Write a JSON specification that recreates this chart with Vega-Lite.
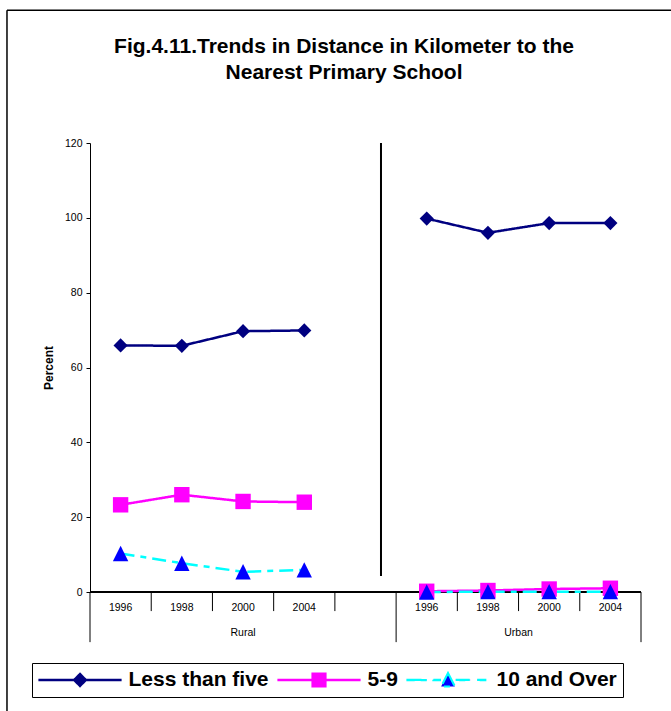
{
  "$schema": "https://vega.github.io/schema/vega-lite/v6.json",
  "width": 551,
  "height": 449,
  "autosize": {"type": "none"},
  "padding": {"left": 90, "top": 143, "right": 30, "bottom": 119},
  "background": "white",
  "config": {
    "view": {"stroke": null},
    "font": "Liberation Sans",
    "axisY": {
      "grid": false,
      "tickCount": 6,
      "domainColor": "black",
      "tickColor": "black",
      "tickSize": 4,
      "labelPadding": 4,
      "labelFont": "Liberation Sans",
      "labelFontSize": 10.5,
      "labelColor": "black",
      "titleFont": "Liberation Sans",
      "titleFontSize": 12,
      "titleFontWeight": "bold",
      "titleColor": "black",
      "titlePadding": 9
    }
  },
  "title": {
    "text": ["Fig.4.11.Trends in Distance in Kilometer to the", "Nearest Primary School"],
    "font": "Liberation Sans",
    "fontSize": 21,
    "fontWeight": "bold",
    "color": "black",
    "lineHeight": 26.5,
    "anchor": "middle",
    "dx": -21.5,
    "offset": -74
  },
  "datasets": {
    "obs": [
      {"series": "Less than five", "area": "Rural", "year": "1996", "cat": "Rural 1996", "value": 65.9},
      {"series": "Less than five", "area": "Rural", "year": "1998", "cat": "Rural 1998", "value": 65.8},
      {"series": "Less than five", "area": "Rural", "year": "2000", "cat": "Rural 2000", "value": 69.7},
      {"series": "Less than five", "area": "Rural", "year": "2004", "cat": "Rural 2004", "value": 69.9},
      {"series": "Less than five", "area": "Urban", "year": "1996", "cat": "Urban 1996", "value": 99.8},
      {"series": "Less than five", "area": "Urban", "year": "1998", "cat": "Urban 1998", "value": 96.0},
      {"series": "Less than five", "area": "Urban", "year": "2000", "cat": "Urban 2000", "value": 98.6},
      {"series": "Less than five", "area": "Urban", "year": "2004", "cat": "Urban 2004", "value": 98.6},
      {"series": "5-9", "area": "Rural", "year": "1996", "cat": "Rural 1996", "value": 23.3},
      {"series": "5-9", "area": "Rural", "year": "1998", "cat": "Rural 1998", "value": 26.0},
      {"series": "5-9", "area": "Rural", "year": "2000", "cat": "Rural 2000", "value": 24.2},
      {"series": "5-9", "area": "Rural", "year": "2004", "cat": "Rural 2004", "value": 24.0},
      {"series": "5-9", "area": "Urban", "year": "1996", "cat": "Urban 1996", "value": 0.2},
      {"series": "5-9", "area": "Urban", "year": "1998", "cat": "Urban 1998", "value": 0.4},
      {"series": "5-9", "area": "Urban", "year": "2000", "cat": "Urban 2000", "value": 0.8},
      {"series": "5-9", "area": "Urban", "year": "2004", "cat": "Urban 2004", "value": 1.0},
      {"series": "10 and Over", "area": "Rural", "year": "1996", "cat": "Rural 1996", "value": 10.3},
      {"series": "10 and Over", "area": "Rural", "year": "1998", "cat": "Rural 1998", "value": 7.7},
      {"series": "10 and Over", "area": "Rural", "year": "2000", "cat": "Rural 2000", "value": 5.4},
      {"series": "10 and Over", "area": "Rural", "year": "2004", "cat": "Rural 2004", "value": 5.9},
      {"series": "10 and Over", "area": "Urban", "year": "1996", "cat": "Urban 1996", "value": 0.0},
      {"series": "10 and Over", "area": "Urban", "year": "1998", "cat": "Urban 1998", "value": 0.1},
      {"series": "10 and Over", "area": "Urban", "year": "2000", "cat": "Urban 2000", "value": 0.1},
      {"series": "10 and Over", "area": "Urban", "year": "2004", "cat": "Urban 2004", "value": 0.1}
    ],
    "cats": [
      {"cat": "Rural 1996", "area": "Rural", "year": "1996"},
      {"cat": "Rural 1998", "area": "Rural", "year": "1998"},
      {"cat": "Rural 2000", "area": "Rural", "year": "2000"},
      {"cat": "Rural 2004", "area": "Rural", "year": "2004"},
      {"cat": "Rural gap", "area": "Rural", "year": ""},
      {"cat": "Urban 1996", "area": "Urban", "year": "1996"},
      {"cat": "Urban 1998", "area": "Urban", "year": "1998"},
      {"cat": "Urban 2000", "area": "Urban", "year": "2000"},
      {"cat": "Urban 2004", "area": "Urban", "year": "2004"}
    ]
  },
  "layer": [
    {
      "data": {"values": [{"edge": "top"}]},
      "mark": {"type": "rule", "color": "black", "strokeWidth": 1.5},
      "encoding": {
        "x": {"datum": "Rural 1996", "bandPosition": -1.356, "scale": {"type": "band", "domain": ["Rural 1996", "Rural 1998", "Rural 2000", "Rural 2004", "Rural gap", "Urban 1996", "Urban 1998", "Urban 2000", "Urban 2004"], "paddingInner": 0, "paddingOuter": 0}, "axis": null},
        "x2": {"datum": "Urban 2004", "bandPosition": 1.49},
        "y": {"datum": 155.5, "title": "Percent", "scale": {"domain": [0, 120], "nice": false, "zero": false}}
      }
    },
    {
      "data": {"values": [{"edge": "left"}]},
      "mark": {"type": "rule", "color": "black", "strokeWidth": 1.5},
      "encoding": {
        "x": {"datum": "Rural 1996", "bandPosition": -1.356, "axis": null},
        "y": {"datum": 155.5, "title": "Percent"},
        "y2": {"datum": -31.8}
      }
    },
    {
      "data": {"name": "cats"},
      "mark": {"type": "rule", "color": "black", "strokeWidth": 1},
      "encoding": {
        "y": {"datum": 0, "title": "Percent"}
      }
    },
    {
      "data": {"name": "cats"},
      "transform": [{"filter": "datum.cat !== 'Rural 1996' && datum.cat !== 'Urban 1996'"}],
      "mark": {"type": "rule", "color": "black", "strokeWidth": 1},
      "encoding": {
        "x": {"field": "cat", "type": "nominal", "bandPosition": 0, "axis": null},
        "y": {"datum": 0, "title": "Percent"},
        "y2": {"datum": -5.1}
      }
    },
    {
      "data": {"name": "cats"},
      "transform": [{"filter": "datum.cat === 'Rural 1996' || datum.cat === 'Urban 1996'"}],
      "mark": {"type": "rule", "color": "black", "strokeWidth": 1},
      "encoding": {
        "x": {"field": "cat", "type": "nominal", "bandPosition": 0, "axis": null},
        "y": {"datum": 0, "title": "Percent"},
        "y2": {"datum": -13.4}
      }
    },
    {
      "data": {"name": "cats"},
      "transform": [{"filter": "datum.cat === 'Urban 2004'"}],
      "mark": {"type": "rule", "color": "black", "strokeWidth": 1},
      "encoding": {
        "x": {"field": "cat", "type": "nominal", "bandPosition": 1, "axis": null},
        "y": {"datum": 0, "title": "Percent"},
        "y2": {"datum": -13.4}
      }
    },
    {
      "data": {"name": "cats"},
      "mark": {"type": "text", "font": "Liberation Sans", "fontSize": 10.5, "color": "black", "align": "center", "baseline": "middle"},
      "encoding": {
        "x": {"field": "cat", "type": "nominal", "bandPosition": 0.5, "axis": null},
        "y": {"datum": -4.3, "title": "Percent"},
        "text": {"field": "year"}
      }
    },
    {
      "data": {"name": "cats"},
      "transform": [{"filter": "datum.cat === 'Rural 2000'"}],
      "mark": {"type": "text", "font": "Liberation Sans", "fontSize": 10.5, "color": "black", "align": "center", "baseline": "middle"},
      "encoding": {
        "x": {"field": "cat", "type": "nominal", "bandPosition": 0.5, "axis": null},
        "y": {"datum": -11.0, "title": "Percent"},
        "text": {"field": "area"}
      }
    },
    {
      "data": {"name": "cats"},
      "transform": [{"filter": "datum.cat === 'Urban 2000'"}],
      "mark": {"type": "text", "font": "Liberation Sans", "fontSize": 10.5, "color": "black", "align": "center", "baseline": "middle"},
      "encoding": {
        "x": {"field": "cat", "type": "nominal", "bandPosition": 0, "axis": null},
        "y": {"datum": -11.0, "title": "Percent"},
        "text": {"field": "area"}
      }
    },
    {
      "data": {"name": "cats"},
      "transform": [{"filter": "datum.cat === 'Rural gap'"}],
      "mark": {"type": "rule", "color": "black", "strokeWidth": 2},
      "encoding": {
        "x": {"field": "cat", "type": "nominal", "bandPosition": 0.753, "axis": null},
        "y": {"datum": 4.3, "title": "Percent"},
        "y2": {"datum": 120}
      }
    },
    {
      "data": {"name": "obs"},
      "mark": {"type": "line", "strokeWidth": 2.5},
      "encoding": {
        "x": {"field": "cat", "type": "nominal", "bandPosition": 0.5, "axis": null},
        "y": {"field": "value", "type": "quantitative", "title": "Percent"},
        "detail": {"field": "area"},
        "stroke": {
          "field": "series",
          "type": "nominal",
          "scale": {"domain": ["Less than five", "5-9", "10 and Over"], "range": ["#000080", "#FF00FF", "#00FFFF"]},
          "legend": {
            "orient": "none", "legendX": -58, "legendY": 520, "direction": "horizontal", "columns": 3, "title": null,
            "symbolType": "stroke", "symbolSize": 6561, "symbolStrokeWidth": 2.2, "clipHeight": 22, "padding": 6,
            "strokeColor": "black", "labelFont": "Liberation Sans", "labelFontSize": 21, "labelFontWeight": "bold",
            "labelColor": "black", "labelOffset": 6.5, "columnPadding": 8, "labelLimit": 0,
            "encode": {
              "symbols": {
                "update": {
                  "shape": {"signal": "datum.value === 'Less than five' ? 'M-1,-0.004H-0.15V0.004H-1ZM0.15,-0.004H1V0.004H0.15ZM0,-0.15L0.15,0L0,0.15L-0.15,0Z' : datum.value === '5-9' ? 'M-1,-0.004H-0.16V0.004H-1ZM0.16,-0.004H1V0.004H0.16ZM-0.16,-0.16H0.16V0.16H-0.16Z' : 'M-1,-0.004H-0.52V0.004H-1ZM-0.36,-0.004H-0.2V0.004H-0.36ZM0.19,-0.004H0.55V0.004H0.19ZM0.72,-0.004H0.92V0.004H0.72ZM0,-0.17L0.17,0.16L-0.17,0.16Z'"},
                  "fill": {"signal": "datum.value === '10 and Over' ? '#0000FF' : scale('stroke', datum.value)"},
                  "stroke": {"scale": "stroke", "field": "value"},
                  "strokeWidth": {"value": 2.2},
                  "opacity": {"value": 1}
                }
              }
            }
          }
        },
        "strokeDash": {
          "field": "series",
          "type": "nominal",
          "scale": {"domain": ["Less than five", "5-9", "10 and Over"], "range": [[1, 0], [1, 0], [14, 6, 6, 6]]},
          "legend": null
        }
      }
    },
    {
      "data": {"name": "obs"},
      "transform": [{"filter": "datum.series === 'Less than five'"}],
      "mark": {"type": "point", "filled": true, "opacity": 1, "size": 6561, "strokeWidth": 0, "fill": "#000080", "shape": "M0,-0.175L0.175,0L0,0.175L-0.175,0Z"},
      "encoding": {
        "x": {"field": "cat", "type": "nominal", "bandPosition": 0.5, "axis": null},
        "y": {"field": "value", "type": "quantitative", "title": "Percent"}
      }
    },
    {
      "data": {"name": "obs"},
      "transform": [{"filter": "datum.series === '5-9'"}],
      "mark": {"type": "point", "filled": true, "opacity": 1, "size": 6561, "strokeWidth": 0, "fill": "#FF00FF", "shape": "M-0.19,-0.19H0.19V0.19H-0.19Z"},
      "encoding": {
        "x": {"field": "cat", "type": "nominal", "bandPosition": 0.5, "axis": null},
        "y": {"field": "value", "type": "quantitative", "title": "Percent"}
      }
    },
    {
      "data": {"name": "obs"},
      "transform": [{"filter": "datum.series === '10 and Over'"}],
      "mark": {"type": "point", "filled": true, "opacity": 1, "size": 6561, "strokeWidth": 0, "fill": "#0000FF", "shape": "M0,-0.19L0.19,0.19L-0.19,0.19Z"},
      "encoding": {
        "x": {"field": "cat", "type": "nominal", "bandPosition": 0.5, "axis": null},
        "y": {"field": "value", "type": "quantitative", "title": "Percent"}
      }
    }
  ]
}
